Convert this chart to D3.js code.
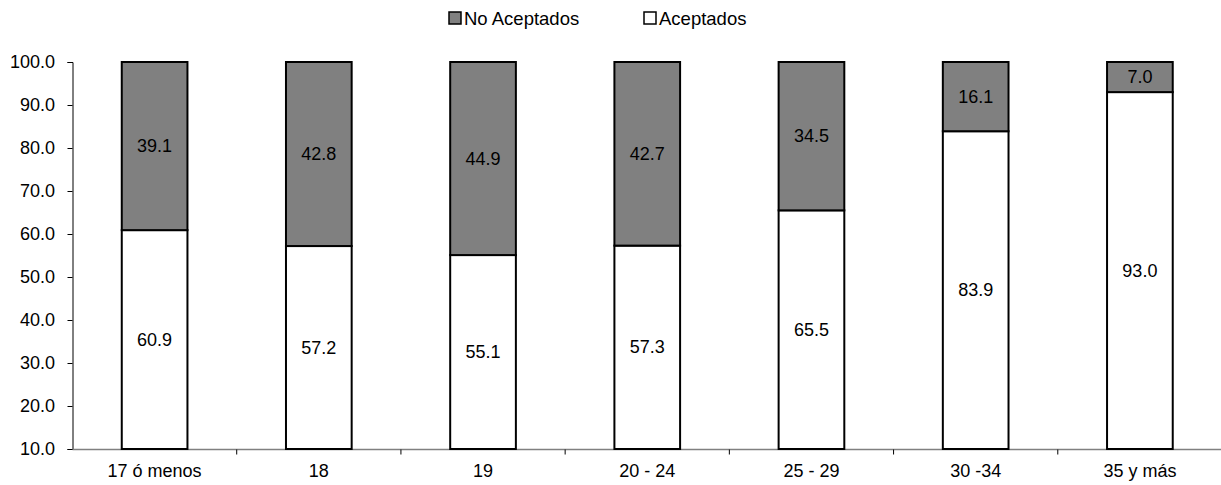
<!DOCTYPE html>
<html><head><meta charset="utf-8">
<script src="https://cdn.jsdelivr.net/npm/d3@7"></script>
<style>body{margin:0;background:#fff}svg{display:block}text{font-family:"Liberation Sans",Arial,sans-serif;fill:#000}</style>
</head><body><svg id="c" width="1221" height="485"></svg>
<script>
const categories = ["17 ó menos","18","19","20 - 24","25 - 29","30 -34","35 y más"];
const aceptados = [60.9,57.2,55.1,57.3,65.5,83.9,93.0];
const noAceptados = [39.1,42.8,44.9,42.7,34.5,16.1,7.0];
const yTicks = [10,20,30,40,50,60,70,80,90,100];
const seriesNames = ["No Aceptados","Aceptados"];
const seriesColors = ["#808080","#ffffff"];

const svg = d3.select("#c");
const mLeft = 72.5, mRight = 1222, mTop = 62, mBottom = 449;
const x = d3.scaleBand().domain(categories).range([mLeft, mRight]).paddingInner(0.6).paddingOuter(0.3);
const y = d3.scaleLinear().domain([10,100]).range([mBottom, mTop]);
const fs = 18;

// y axis
const ya = svg.append("g").attr("transform",`translate(${mLeft},0)`)
  .call(d3.axisLeft(y).tickValues(yTicks).tickFormat(d3.format(".1f")).tickSizeOuter(0).tickSize(5).tickPadding(12.5));
ya.attr("font-size",fs).attr("font-family","Liberation Sans, Arial");
ya.select(".domain").attr("stroke","#000");
ya.selectAll("line").attr("stroke","#000");
ya.selectAll("text").attr("font-size",fs);

// x axis (ticks at band boundaries)
const xg = svg.append("g").attr("transform",`translate(0,${mBottom+0.5})`);
xg.append("line").attr("x1",mLeft).attr("x2",1221).attr("stroke","#808080").attr("stroke-width",1.5);
const step = (mRight-mLeft)/categories.length;
categories.forEach((c,i)=>{
  if(i>0) xg.append("line").attr("x1",mLeft+i*step).attr("x2",mLeft+i*step).attr("y1",0).attr("y2",5).attr("stroke","#000");
  xg.append("text").attr("x",x(c)+x.bandwidth()/2).attr("y",27).attr("text-anchor","middle").attr("font-size",fs).text(c);
});

// bars
const bw = x.bandwidth();
categories.forEach((c,i)=>{
  const a = aceptados[i], n = noAceptados[i];
  const bx = x(c);
  svg.append("rect").attr("x",bx).attr("y",y(a)).attr("width",bw).attr("height",y(10)-y(a))
    .attr("fill",seriesColors[1]).attr("stroke","#000").attr("stroke-width",2);
  svg.append("rect").attr("x",bx).attr("y",y(a+n)).attr("width",bw).attr("height",y(a)-y(a+n))
    .attr("fill",seriesColors[0]).attr("stroke","#000").attr("stroke-width",2);
  svg.append("text").attr("x",bx+bw/2).attr("y",(y(10)+y(a))/2+6).attr("text-anchor","middle").attr("font-size",fs).text(a.toFixed(1));
  svg.append("text").attr("x",bx+bw/2).attr("y",(y(a)+y(a+n))/2+6).attr("text-anchor","middle").attr("font-size",fs).text(n.toFixed(1));
});

// legend
const legX = [449, 644];
seriesNames.forEach((s,i)=>{
  svg.append("rect").attr("x",legX[i]).attr("y",12).attr("width",12).attr("height",12)
    .attr("fill",seriesColors[i]).attr("stroke","#000").attr("stroke-width",1.5);
  svg.append("text").attr("x",legX[i]+15).attr("y",24.5).attr("font-size",18.5).text(s);
});
</script></body></html>
